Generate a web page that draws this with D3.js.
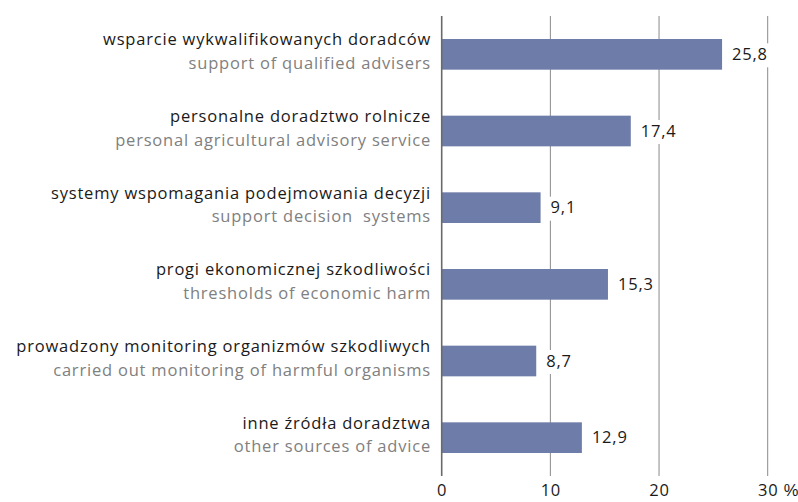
<!DOCTYPE html>
<html>
<head>
<meta charset="utf-8">
<script src="https://cdn.jsdelivr.net/npm/d3@7"></script>
<style>
  body { margin: 0; background: #fff; }
  svg { display: block; font-family: "Open Sans", sans-serif; }
  text { white-space: pre; letter-spacing: 0.8px; }
</style>
</head>
<body>
<svg id="chart" width="798" height="502"></svg>
<script>
const labelsPl = [
  "wsparcie wykwalifikowanych doradców",
  "personalne doradztwo rolnicze",
  "systemy wspomagania podejmowania decyzji",
  "progi ekonomicznej szkodliwości",
  "prowadzony monitoring organizmów szkodliwych",
  "inne źródła doradztwa"
];
const labelsEn = [
  "support of qualified advisers",
  "personal agricultural advisory service",
  "support decision  systems",
  "thresholds of economic harm",
  "carried out monitoring of harmful organisms",
  "other sources of advice"
];
const values = [25.8, 17.4, 9.1, 15.3, 8.7, 12.9];
const ticks = [0, 10, 20, 30];

const fontSize = 16.5;
const svg = d3.select("#chart");

const x = d3.scaleLinear().domain([0, 30]).range([441.7, 767.7]);
const y = d3.scaleBand()
  .domain(d3.range(values.length))
  .range([16, 476])
  .paddingInner(0.6)
  .paddingOuter(0.3);

// grid lines
svg.append("g")
  .selectAll("line")
  .data(ticks.slice(1))
  .join("line")
  .attr("x1", d => x(d)).attr("x2", d => x(d))
  .attr("y1", 16).attr("y2", 476)
  .attr("stroke", "#8a8a8a")
  .attr("stroke-width", 1);

// bars
svg.append("g")
  .selectAll("rect")
  .data(values)
  .join("rect")
  .attr("x", x(0))
  .attr("y", (d, i) => y(i))
  .attr("width", d => x(d) - x(0))
  .attr("height", y.bandwidth())
  .attr("fill", "#6e7ca9");

// axis line
svg.append("line")
  .attr("x1", x(0)).attr("x2", x(0))
  .attr("y1", 16).attr("y2", 476)
  .attr("stroke", "#6a6a6a")
  .attr("stroke-width", 1.6);

// value labels with white background
const vl = svg.append("g")
  .selectAll("g")
  .data(values)
  .join("g")
  .attr("transform", (d, i) => `translate(${x(d) + 10},${y(i) + y.bandwidth() / 2})`);
vl.append("rect")
  .attr("x", -2).attr("y", -11)
  .attr("width", 42).attr("height", 24)
  .attr("fill", "#fff");
vl.append("text")
  .attr("dy", "0.35em")
  .attr("font-size", fontSize)
  .attr("fill", "#1a1a1a")
  .text(d => d3.format(".1f")(d).replace(".", ","));

// category labels
const cl = svg.append("g")
  .selectAll("g")
  .data(values)
  .join("g")
  .attr("transform", (d, i) => `translate(431,${y(i) + y.bandwidth() / 2})`);
cl.append("text")
  .attr("text-anchor", "end")
  .attr("y", -9)
  .attr("font-size", fontSize)
  .attr("fill", "#1a1a1a")
  .text((d, i) => labelsPl[i]);
cl.append("text")
  .attr("text-anchor", "end")
  .attr("y", 14.5)
  .attr("font-size", fontSize)
  .attr("fill", "#808080")
  .text((d, i) => labelsEn[i]);

// x axis
const axis = svg.append("g")
  .attr("transform", "translate(0,476)")
  .call(d3.axisBottom(x).tickValues(ticks).tickSize(0).tickPadding(8));
axis.select(".domain").remove();
axis.selectAll("text")
  .attr("font-family", "Open Sans, sans-serif")
  .attr("font-size", fontSize)
  .attr("fill", "#1a1a1a");
axis.append("text")
  .attr("x", x(30) + 16)
  .attr("y", 8)
  .attr("dy", "0.71em")
  .attr("font-size", fontSize)
  .attr("fill", "#1a1a1a")
  .attr("text-anchor", "start")
  .text("%");
</script>
</body>
</html>
